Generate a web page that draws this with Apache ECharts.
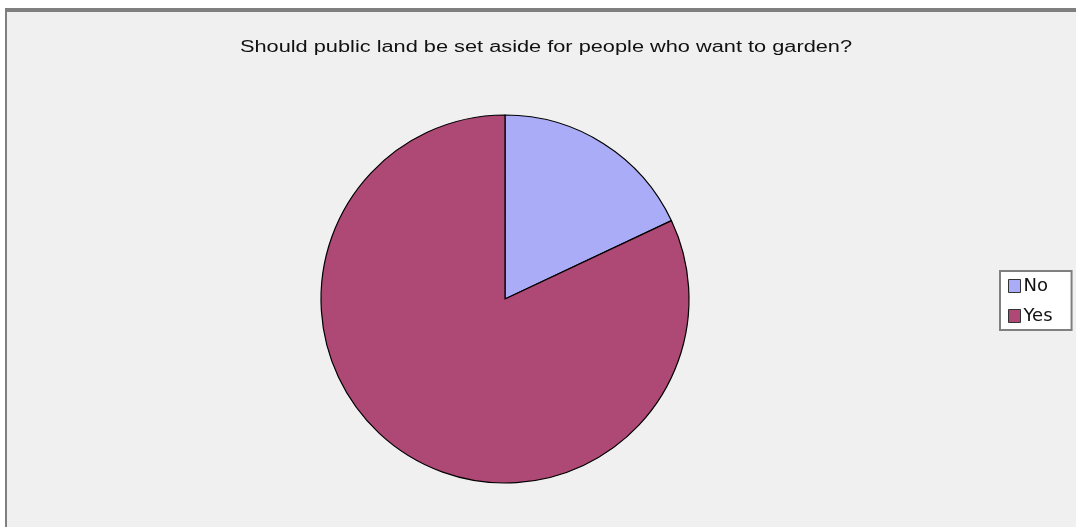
<!DOCTYPE html>
<html>
<head>
<meta charset="utf-8">
<script src="https://cdn.jsdelivr.net/npm/echarts@6/dist/echarts.min.js"></script>
<style>
html,body{margin:0;padding:0;background:#ffffff;}
#chart{width:1076px;height:527px;}
</style>
</head>
<body>
<div id="chart"></div>
<script>
const titleText = "Should public land be set aside for people who want to garden?";
const categories = ["No", "Yes"];
const values = [18, 82];
const colors = ["#aaacf8", "#ae4874"];

const chart = echarts.init(document.getElementById('chart'), null, {renderer: 'canvas'});
chart.setOption({
  animation: false,
  backgroundColor: '#ffffff',
  graphic: [
    {type: 'rect', shape: {x: 5, y: 8, width: 1071, height: 519}, style: {fill: '#f0f0f0'}, z: -10, silent: true},
    {type: 'rect', shape: {x: 5, y: 8, width: 1071, height: 4}, style: {fill: '#7f7f7f'}, z: -9, silent: true},
    {type: 'rect', shape: {x: 5, y: 8, width: 2, height: 519}, style: {fill: '#7f7f7f'}, z: -9, silent: true},
    {type: 'text', x: 546, y: 48, scaleX: 1.36, silent: true,
     style: {text: titleText, x: 0, y: 0, align: 'center', verticalAlign: 'middle',
             font: '16px "Liberation Sans", Arial, sans-serif', fill: '#111111'}}
  ],
  legend: {
    orient: 'vertical',
    left: 1000,
    top: 271,
    itemWidth: 12,
    itemHeight: 13,
    itemGap: 12,
    padding: [6, 19, 5, 8],
    backgroundColor: '#ffffff',
    borderColor: '#808080',
    borderWidth: 2,
    icon: 'rect',
    data: categories,
    textStyle: {fontFamily: 'DejaVu Sans, sans-serif', fontSize: 18, lineHeight: 16, color: '#111111', padding: [0, 0, 0, -2]},
    itemStyle: {borderColor: '#333333', borderWidth: 1}
  },
  series: [{
    type: 'pie',
    center: [505, 299],
    radius: 184,
    startAngle: 90,
    clockwise: true,
    label: {show: false},
    labelLine: {show: false},
    emphasis: {disabled: true},
    itemStyle: {borderColor: '#000000', borderWidth: 1.2},
    data: categories.map((c, i) => ({name: c, value: values[i], itemStyle: {color: colors[i]}}))
  }]
});
</script>
</body>
</html>
